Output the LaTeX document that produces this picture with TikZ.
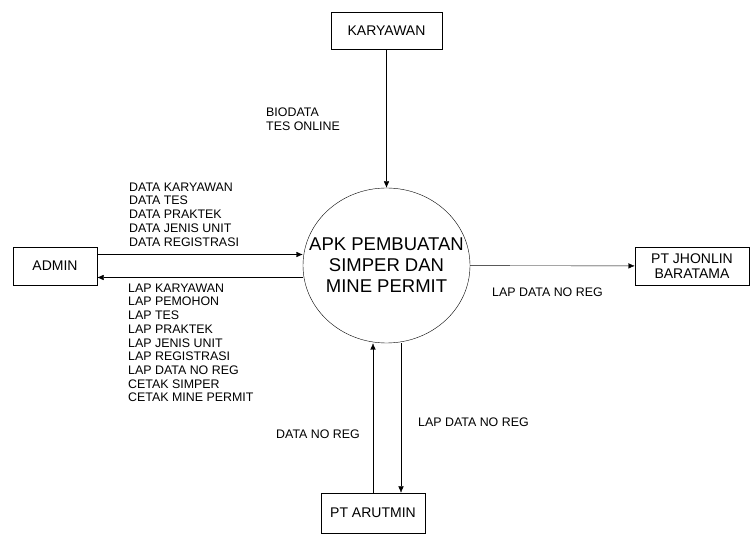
\documentclass[tikz,border=0pt]{standalone}
\usepackage{fontspec}
\setmainfont{Liberation Sans}
\usepackage{tikz}
\usetikzlibrary{shapes.geometric, positioning, arrows.meta}
\tikzset{
    ->, % every connector is directed
    >={Latex[length=6.5pt,width=5.5pt]}, % small filled arrow heads
    line width=0.7pt,
    entity/.style={draw, rectangle, inner sep=0pt, font=\fontsize{14}{15.5}\selectfont, align=center}, % outside parties
    process/.style={draw, ellipse, inner sep=0pt, minimum width=167pt, minimum height=155pt}, % the process
    flow/.style={inner sep=0pt, anchor=north west, align=left, font=\fontsize{12.4}{13.7}\selectfont}, % data flow labels
}
\begin{document}
\begin{tikzpicture}[x=1pt, y=-1pt]
    \useasboundingbox (0,0) rectangle (750,534);
    \node[process] (apk) at (386.5,265.5) {};
    \node[align=center, font=\fontsize{18.5}{21}\selectfont] (apktxt) at (apk.center) {APK PEMBUATAN\\SIMPER DAN\\MINE PERMIT};
    \node[entity, minimum width=111pt, minimum height=37pt] (kry) at (386.5,30.5) {KARYAWAN};
    \node[entity, minimum width=84pt, minimum height=38pt] (adm) at (55,266) {ADMIN};
    \node[entity, minimum width=114pt, minimum height=38pt] (jhn) at (692,266) {PT JHONLIN\\BARATAMA};
    \node[entity, minimum width=104pt, minimum height=40pt] (aru) at (373,513) {PT ARUTMIN};
    % connectors
    \draw (kry) -- (apk);
    \draw ([yshift=11.5pt]adm.east) -- ([yshift=11.5pt]adm.east -| apk.west);
    \draw ([yshift=-11.5pt]adm.east -| apk.west) -- ([yshift=-11.5pt]adm.east);
    \draw (apk) -- (jhn);
    \draw (aru) -- (aru.north |- apk.south);
    \draw ([xshift=28pt]aru.north |- apk.south) -- ([xshift=28pt]aru.north);
    % labels
    \node[flow] (lbio) at (266,107.5) {BIODATA\\TES ONLINE};
    \node[flow] (ldata) at (129,182.5) {DATA KARYAWAN\\DATA TES\\DATA PRAKTEK\\DATA JENIS UNIT\\DATA REGISTRASI};
    \node[flow] (llap) at (128,283.5) {LAP KARYAWAN\\LAP PEMOHON\\LAP TES\\LAP PRAKTEK\\LAP JENIS UNIT\\LAP REGISTRASI\\LAP DATA NO REG\\CETAK SIMPER\\CETAK MINE PERMIT};
    \node[flow] (ljhn) at (492,287.5) {LAP DATA NO REG};
    \node[flow] (lreg) at (276,429.5) {DATA NO REG};
    \node[flow] (laru) at (418,417.5) {LAP DATA NO REG};
\end{tikzpicture}
\end{document}
